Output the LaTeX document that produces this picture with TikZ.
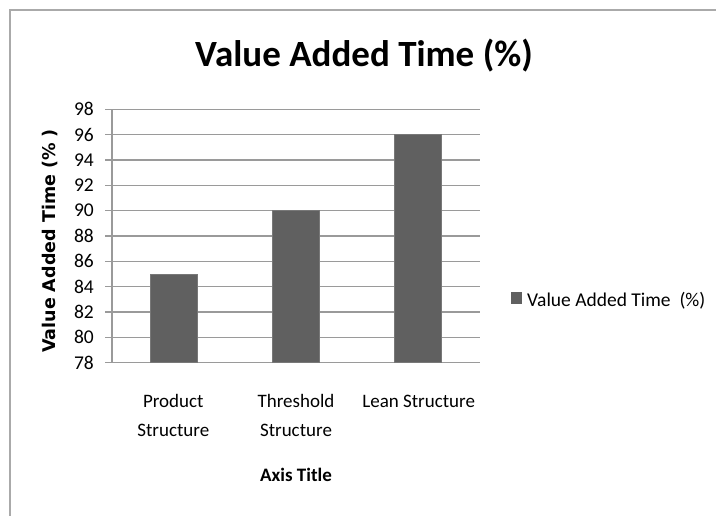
\documentclass[tikz,border=0pt]{standalone}
\usepackage{fontspec}
\setmainfont{Carlito}
\newfontfamily\ytitlefont{DejaVu Sans}
\definecolor{gridgray}{RGB}{154,154,154}
\definecolor{framegray}{RGB}{170,170,170}
\definecolor{bargray}{RGB}{96,96,96}
\begin{document}
\begin{tikzpicture}[x=1pt,y=-1pt,
  gridline/.style={draw=gridgray,line width=1.5pt},
  barfill/.style={fill=bargray,draw=bargray!85!white,line width=0.8pt},
  ticklabel/.style={anchor=east,inner sep=0pt,font=\fontsize{19.5}{23}\selectfont},
  catlabel/.style={anchor=north,inner sep=0pt,align=center,font=\fontsize{19}{29}\selectfont}]
\useasboundingbox (0,0) rectangle (716,516);
\draw[framegray,line width=2pt] (10,530) -- (10,10.5) -- (730,10.5);
\node[anchor=base,inner sep=0pt,font=\fontsize{37}{40}\selectfont\bfseries] (title) at (364,67) {Value Added Time (\%)};
\foreach \v in {78,80,...,98} {
  \draw[gridline] (105,{362.7-(\v-78)*12.67}) -- (480,{362.7-(\v-78)*12.67});
  \node[ticklabel] (t\v) at (94,{362.7-(\v-78)*12.67}) {\v};
}
\draw[barfill] (150,362.7) rectangle (197,274.0);
\draw[barfill] (272,362.7) rectangle (319,210.7);
\draw[barfill] (394.5,362.7) rectangle (441.5,134.6);
\draw[gridline] (112,109.3) -- (112,362.7);
\node[rotate=90,inner sep=0pt,font=\ytitlefont\fontsize{17.5}{20}\selectfont\bfseries] (ytitle) at (50,241) {Value Added Time (\% )};
\node[catlabel] (product) at (173.3,394) {Product\\Structure};
\node[catlabel] (threshold) at (296,394) {Threshold\\Structure};
\node[catlabel] (lean) at (418.7,394) {\vphantom{Pdh}Lean Structure};
\node[anchor=base,inner sep=0pt,font=\fontsize{19}{23}\selectfont\bfseries] (xtitle) at (296,481) {Axis Title};
\node[fill=bargray,minimum size=11.5pt,inner sep=0pt] (legkey) at (516.5,298) {};
\node[anchor=base west,inner sep=0pt,font=\fontsize{19.5}{23}\selectfont] (legtext) at (527,306.5) {Value Added Time\ \ (\%)};
\end{tikzpicture}
\end{document}
